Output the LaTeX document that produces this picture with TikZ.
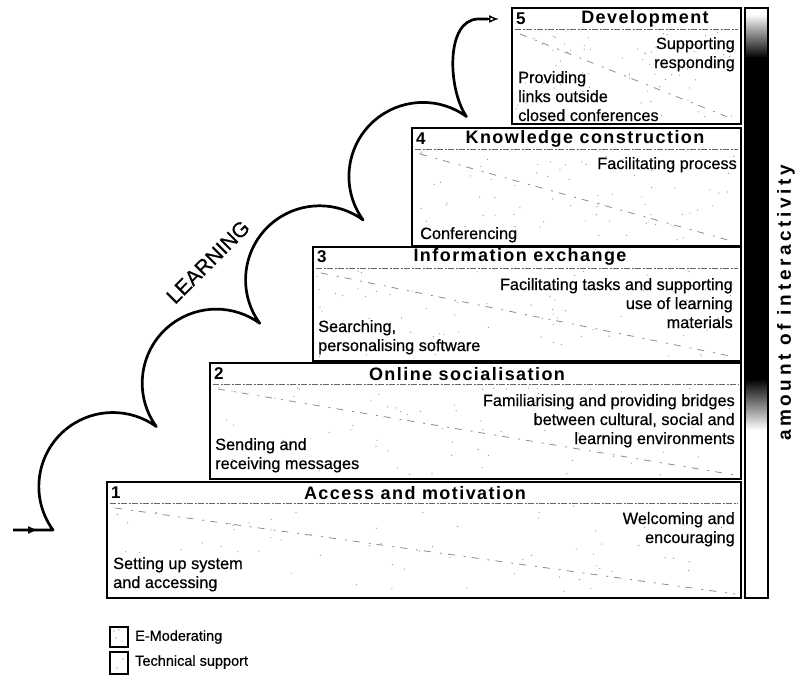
\documentclass[tikz,border=0pt]{standalone}
\usepackage{fontspec}
\setmainfont{Liberation Sans}
\newfontfamily\ttlfont[LetterSpace=8]{Liberation Sans}
\newfontfamily\sidefont[LetterSpace=19]{Liberation Sans}
\newfontfamily\txtfont[FakeBold=0.6]{Liberation Sans}
\usetikzlibrary{arrows.meta}
\begin{document}
\begin{tikzpicture}[x=1pt,y=-1pt,
  stage/.style={draw=black, line width=2pt},
  sep/.style={draw=black!60, line width=1pt, dash pattern=on 6pt off 1.5pt on 2pt off 1.5pt},
  diag/.style={draw=black!45, line width=0.8pt, dash pattern=on 7pt off 9pt on 2pt off 6pt},
  num/.style={font=\bfseries\fontsize{17}{20}\selectfont, anchor=west, inner sep=0},
  ttl/.style={font=\ttlfont\bfseries\fontsize{18}{20}\selectfont, inner sep=0},
  bodyl/.style={font=\txtfont\fontsize{16.3}{19}\selectfont, inner sep=0, align=left, anchor=north west},
  bodyr/.style={font=\txtfont\fontsize{16.3}{19}\selectfont, inner sep=0, align=right, anchor=north east},
  curve/.style={line width=2.7pt, line join=round},
  legbox/.style={draw=black, line width=1.6pt},
  legtext/.style={font=\txtfont\fontsize{14.5}{17}\selectfont, anchor=west, inner sep=0},
]
\useasboundingbox (0,0) rectangle (798,680);

% ---------- stage boxes ----------
\pgfmathsetseed{11}
\foreach \l/\t/\b in {512/8/124, 412/128/246, 313/247/361, 210/363/479, 107/482/598}{
  \fill[white] (\l,\t) rectangle (741,\b);
  \foreach \k in {1,...,70}{
    \pgfmathsetmacro\px{\l+4+rnd*(733-\l)}
    \pgfmathsetmacro\py{\t+24+rnd*(\b-\t-28)}
    \fill[black!45] (\px,\py) circle[radius=0.6];
  }
  \draw[diag] (\l+8,\t+26) -- (735,\b-4);
  \draw[sep] (\l+3,\t+21) -- (738,\t+21);
  \draw[stage] (\l,\t) rectangle (741,\b);
}

% ---------- stage 5 ----------
\node[num] (n5) at (516,19) {5};
\node[ttl] (t5) at (645,19) {Development};
\node[bodyr] (r5) at (735,37) {Supporting\\responding};
\node[bodyl] (l5) at (518,71) {Providing\\links outside\\closed conferences};

% ---------- stage 4 ----------
\node[num] (n4) at (416,139) {4};
\node[ttl] (t4) at (585,139) {Knowledge construction};
\node[bodyr] (r4) at (737,157) {Facilitating process};
\node[bodyl] (l4) at (420,227) {Conferencing};

% ---------- stage 3 ----------
\node[num] (n3) at (317,257) {3};
\node[ttl] (t3) at (520,257) {Information exchange};
\node[bodyr] (r3) at (733,278) {Facilitating tasks and supporting\\use of learning\\materials};
\node[bodyl] (l3) at (318,320) {Searching,\\personalising software};

% ---------- stage 2 ----------
\node[num] (n2) at (214,374) {2};
\node[ttl] (t2) at (467,374) {Online socialisation};
\node[bodyr] (r2) at (735,394) {Familiarising and providing bridges\\between cultural, social and\\learning environments};
\node[bodyl] (l2) at (215,438) {Sending and\\receiving messages};

% ---------- stage 1 ----------
\node[num] (n1) at (111,493) {1};
\node[ttl] (t1) at (415,493) {Access and motivation};
\node[bodyr] (r1) at (735,512) {Welcoming and\\encouraging};
\node[bodyl] (l1) at (113,557) {Setting up system\\and accessing};

% ---------- interactivity bar ----------
\fill[white] (745,8) rectangle (768,598);
\shade[top color=white, bottom color=black] (745,14) rectangle (768,58);
\fill[black] (745,57) rectangle (768,380);
\shade[top color=black, bottom color=white] (745,379) rectangle (768,430);
\draw[line width=1.6pt] (745,8) rectangle (768,598);
\node[font=\sidefont\bfseries\fontsize{19}{21}\selectfont, rotate=90, inner sep=0] (amt) at (786,303) {amount of interactivity};

% ---------- learning curve ----------
\coordinate (c0) at (53,530);
\coordinate (s0) at (13,530);
\draw[curve] (s0) -- (c0)
  arc[start angle=144, end angle=306, radius=74] coordinate (c1)
  arc[start angle=144, end angle=306, radius=74] coordinate (c2)
  arc[start angle=144, end angle=306, radius=74] coordinate (c3)
  arc[start angle=144, end angle=306, radius=74] coordinate (c4)
  .. controls (448,90) and (445,20) .. (478,19) -- (488,19) coordinate (e0);
\coordinate (e1) at (499,19);
\draw[line width=1.4pt, -{Latex[open, length=10pt, width=8pt]}] (e0) -- (e1);
\coordinate (a1) at (38,530);
\draw[line width=1.4pt, -{Latex[open, length=10pt, width=8pt]}] (s0) -- (a1);
\node[font=\txtfont\fontsize{21}{23}\selectfont, rotate=45, inner sep=0] (learn) at (208,262) {LEARNING};

% ---------- legend ----------
\draw[legbox] (110,627) rectangle (128,647);
\fill[black!60] (114,631) circle[radius=0.7] (119,630) circle[radius=0.6] (116,638) circle[radius=0.7] (122,641) circle[radius=0.5];
\node[legtext] (lg1) at (135,637) {E-Moderating};
\draw[legbox] (110,652) rectangle (128,674);
\fill[black!60] (123,659) circle[radius=0.6] (117,668) circle[radius=0.6];
\node[legtext] (lg2) at (135,662) {Technical support};
\end{tikzpicture}
\end{document}
